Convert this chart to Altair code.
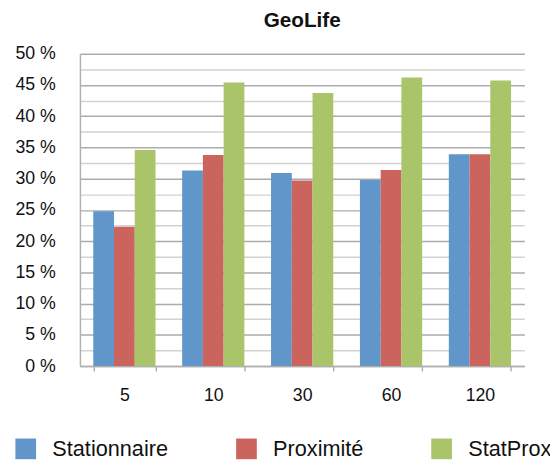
import altair as alt
import pandas as pd

categories = ["5", "10", "30", "60", "120"]
series = ["Stationnaire", "Proximité", "StatProx"]
stationnaire = [24.8, 31.3, 30.9, 29.8, 33.9]
proximite = [22.3, 33.8, 29.7, 31.4, 33.9]
statprox = [34.6, 45.4, 43.7, 46.2, 45.7]
colors = ["#6096C9", "#CC645E", "#AAC46A"]
y_ticks = [0, 2.5, 5, 7.5, 10, 12.5, 15, 17.5, 20, 22.5, 25, 27.5, 30,
           32.5, 35, 37.5, 40, 42.5, 45, 47.5, 50]

rows = []
for name, vals in zip(series, [stationnaire, proximite, statprox]):
    for c, v in zip(categories, vals):
        rows.append({"cat": c, "series": name, "value": v})
df = pd.DataFrame(rows)

FONT = "Liberation Sans"

chart = alt.Chart(df).mark_bar().encode(
    x=alt.X("cat:N", sort=categories, title=None,
            scale=alt.Scale(paddingInner=0.3, paddingOuter=0.15),
            axis=alt.Axis(labelAngle=0, tickBand="extent", domainColor="#b0b0b0",
                          domainWidth=1.5, tickColor="#b0b0b0", tickWidth=1.5,
                          tickSize=5, labelFontSize=18, labelPadding=16,
                          labelColor="#111111", labelFont=FONT, grid=False)),
    xOffset=alt.XOffset("series:N", sort=series),
    y=alt.Y("value:Q", scale=alt.Scale(domain=[0, 50], nice=False), title=None,
            axis=alt.Axis(values=y_ticks,
                          labelExpr="datum.value % 5 === 0 ? datum.value + ' %' : ''",
                          labelFontSize=18, labelFont=FONT, labelColor="#111111",
                          labelPadding=25, tickSize=0, domainColor="#b0b0b0",
                          domainWidth=1.5, grid=True, gridWidth=1.5,
                          gridColor={"condition": {"test": "datum.value % 5 === 0",
                                                   "value": "#ababab"},
                                     "value": "#d2d2d2"})),
    color=alt.Color("series:N", sort=series,
                    scale=alt.Scale(domain=series, range=colors),
                    legend=alt.Legend(orient="none", legendX=-66, legendY=390,
                                      direction="horizontal", columns=3,
                                      title=None, symbolType="square",
                                      symbolSize=441, symbolStrokeWidth=0,
                                      symbolOpacity=1,
                                      labelFontSize=22, labelFont=FONT,
                                      labelColor="#111111", labelOffset=16,
                                      columnPadding=68, padding=0)),
).properties(
    width=451, height=317,
    title=alt.TitleParams("GeoLife", fontSize=21, fontWeight="bold", font=FONT,
                          anchor="middle", offset=14, color="#111111"),
    autosize=alt.AutoSizeParams(type="none"),
    padding={"left": 73, "top": 43, "right": 26, "bottom": 98},
).configure_view(stroke=None)

chart.save("out.html", embed_options={"renderer": "svg", "actions": False})
